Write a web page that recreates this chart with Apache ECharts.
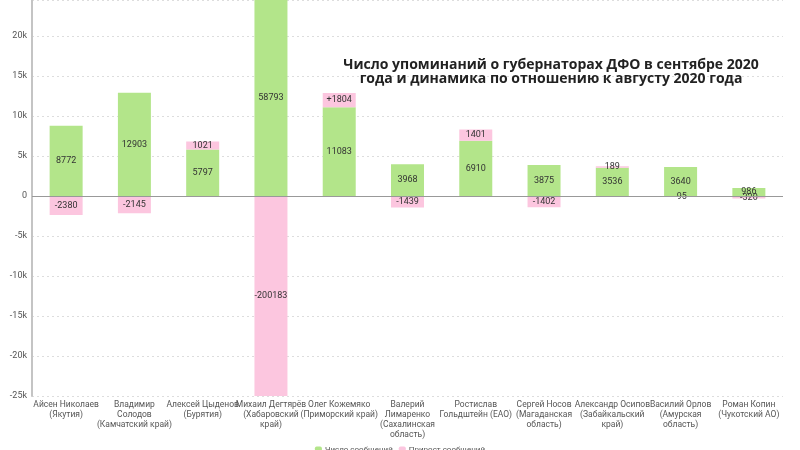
<!DOCTYPE html>
<html>
<head>
<meta charset="utf-8">
<script src="https://cdn.jsdelivr.net/npm/echarts@6/dist/echarts.min.js"></script>
<style>html,body{margin:0;padding:0;background:#fff}#c{width:800px;height:450px}</style>
</head>
<body>
<div id="c"></div>
<script>
var categories = [
  'Айсен Николаев\n(Якутия)',
  'Владимир\nСолодов\n(Камчатский край)',
  'Алексей Цыденов\n(Бурятия)',
  'Михаил Дегтярёв\n(Хабаровский\nкрай)',
  'Олег Кожемяко\n(Приморский край)',
  'Валерий\nЛимаренко\n(Сахалинская\nобласть)',
  'Ростислав\nГольдштейн (ЕАО)',
  'Сергей Носов\n(Магаданская\nобласть)',
  'Александр Осипов\n(Забайкальский\nкрай)',
  'Василий Орлов\n(Амурская\nобласть)',
  'Роман Копин\n(Чукотский АО)'
];
var messages = [8772, 12903, 5797, 58793, 11083, 3968, 6910, 3875, 3536, 3640, 986];
var growth = [-2380, -2145, 1021, -200183, 1804, -1439, 1401, -1402, 189, -95, -320];
var growthLabels = ['-2380', '-2145', '1021', '-200183', '+1804', '-1439', '1401', '-1402', '189', '-95', '-320'];
var axisMin = -25000, axisMax = 24500;

function clip(v) { return Math.max(axisMin, Math.min(axisMax, v)); }

var font = 'Roboto';
var chart = echarts.init(document.getElementById('c'));
var labelStyle = { show: true, position: 'inside', fontSize: 9, color: '#333', fontFamily: font };
chart.setOption({
  animation: false,
  title: {
    text: 'Число упоминаний о губернаторах ДФО в сентябре 2020\nгода и динамика по отношению к августу 2020 года',
    left: 546, top: 53, textAlign: 'center',
    textStyle: { fontFamily: 'Open Sans', fontWeight: 'bold', fontSize: 14, color: '#222', lineHeight: 14 }
  },
  legend: {
    bottom: -9, left: 'center', itemWidth: 7, itemHeight: 7, itemGap: 6,
    textStyle: { fontSize: 8, color: '#555', fontFamily: font, padding: [0, 0, 0, -2] },
    data: ['Число сообщений', 'Прирост сообщений']
  },
  grid: { left: 32, right: 17, top: 0, bottom: 54, containLabel: false },
  xAxis: {
    type: 'category', data: categories,
    axisLine: { show: false, onZero: false }, axisTick: { show: false },
    axisLabel: { interval: 0, fontSize: 8.5, color: '#555', lineHeight: 10, margin: 4, fontFamily: font }
  },
  yAxis: {
    type: 'value', min: axisMin, max: axisMax, interval: 5000,
    axisLine: { show: true, lineStyle: { color: '#c4c4c4', width: 2 } },
    axisTick: { show: false },
    axisLabel: { fontSize: 9, color: '#555', margin: 5, fontFamily: font, showMaxLabel: false,
      formatter: function (v) { return v === 0 ? '0' : (v / 1000) + 'k'; } },
    splitLine: { show: true, lineStyle: { color: '#ddd', type: [2, 3] } }
  },
  series: [
    {
      name: 'Число сообщений', type: 'bar', stack: 'a', barWidth: 33,
      itemStyle: { color: '#b3e58a' },
      data: messages.map(clip),
      label: Object.assign({}, labelStyle, { formatter: function (p) { return String(messages[p.dataIndex]); } }),
      markLine: {
        silent: true, symbol: 'none', label: { show: false },
        lineStyle: { color: '#999', type: 'solid', width: 1 },
        data: [{ yAxis: 0 }]
      }
    },
    {
      name: 'Прирост сообщений', type: 'bar', stack: 'a', barWidth: 33,
      itemStyle: { color: '#fcc6df' },
      data: growth.map(clip),
      label: Object.assign({}, labelStyle, { formatter: function (p) { return growthLabels[p.dataIndex]; } })
    }
  ]
});
</script>
</body>
</html>
